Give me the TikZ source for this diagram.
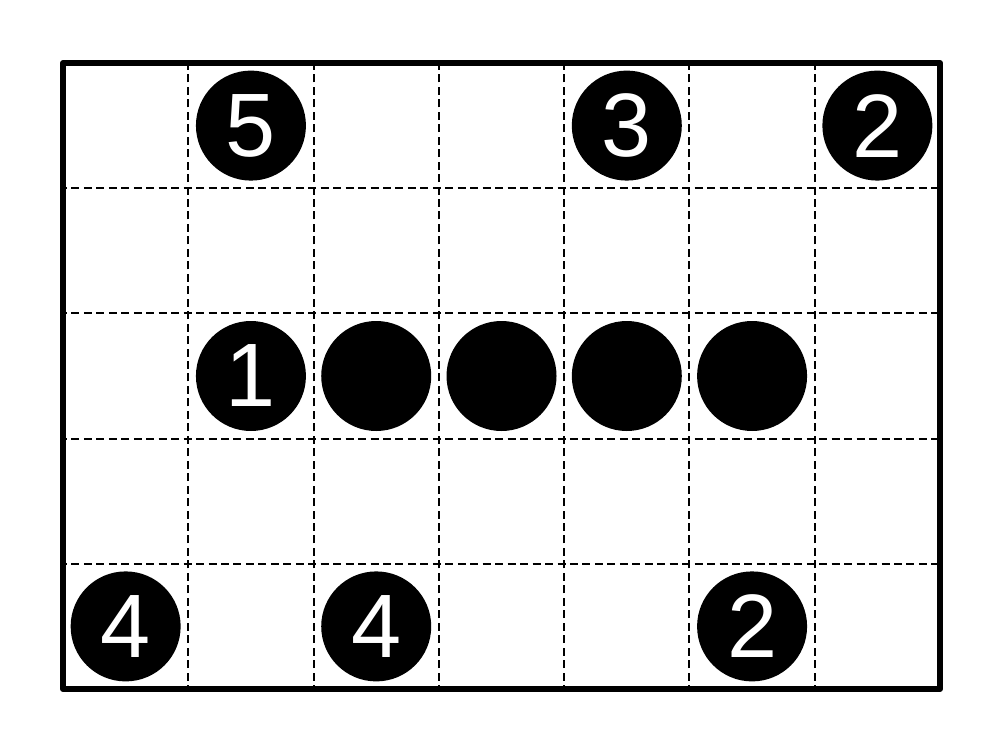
\documentclass[tikz,border=0pt]{standalone}
\usepackage{fontspec}
\setmainfont{Liberation Sans}
\begin{document}
\begin{tikzpicture}[
  gridline/.style={line width=0.45pt, dash pattern=on 0.064cm off 0.0357cm, dash phase=0.032cm},
  frame/.style={line width=1.4pt, line join=round},
  stone/.style={circle, fill=black, minimum size=0.88cm, inner sep=0pt, text=white, font=\fontsize{20.5}{24}\selectfont}
]
\useasboundingbox (0,0) rectangle (8,6);
\begin{scope}[shift={(0.504cm,0.488cm)}, x={(1.0023cm,0)}, y={(0,1.0016cm)}]
  \foreach \i in {1,...,6} \draw[gridline] (\i,0) -- (\i,5);
  \foreach \j in {1,...,4} \draw[gridline] (0,\j) -- (7,\j);
  \draw[frame] (0,0) rectangle (7,5);
  \node[stone] (n5) at (1.5,4.5) {5};
  \node[stone] (n3) at (4.5,4.5) {3};
  \node[stone] (n2a) at (6.5,4.5) {2};
  \node[stone] (n1) at (1.5,2.5) {1};
  \node[stone] (b1) at (2.5,2.5) {};
  \node[stone] (b2) at (3.5,2.5) {};
  \node[stone] (b3) at (4.5,2.5) {};
  \node[stone] (b4) at (5.5,2.5) {};
  \node[stone] (n4a) at (0.5,0.5) {4};
  \node[stone] (n4b) at (2.5,0.5) {4};
  \node[stone] (n2b) at (5.5,0.5) {2};
\end{scope}
\end{tikzpicture}
\end{document}
